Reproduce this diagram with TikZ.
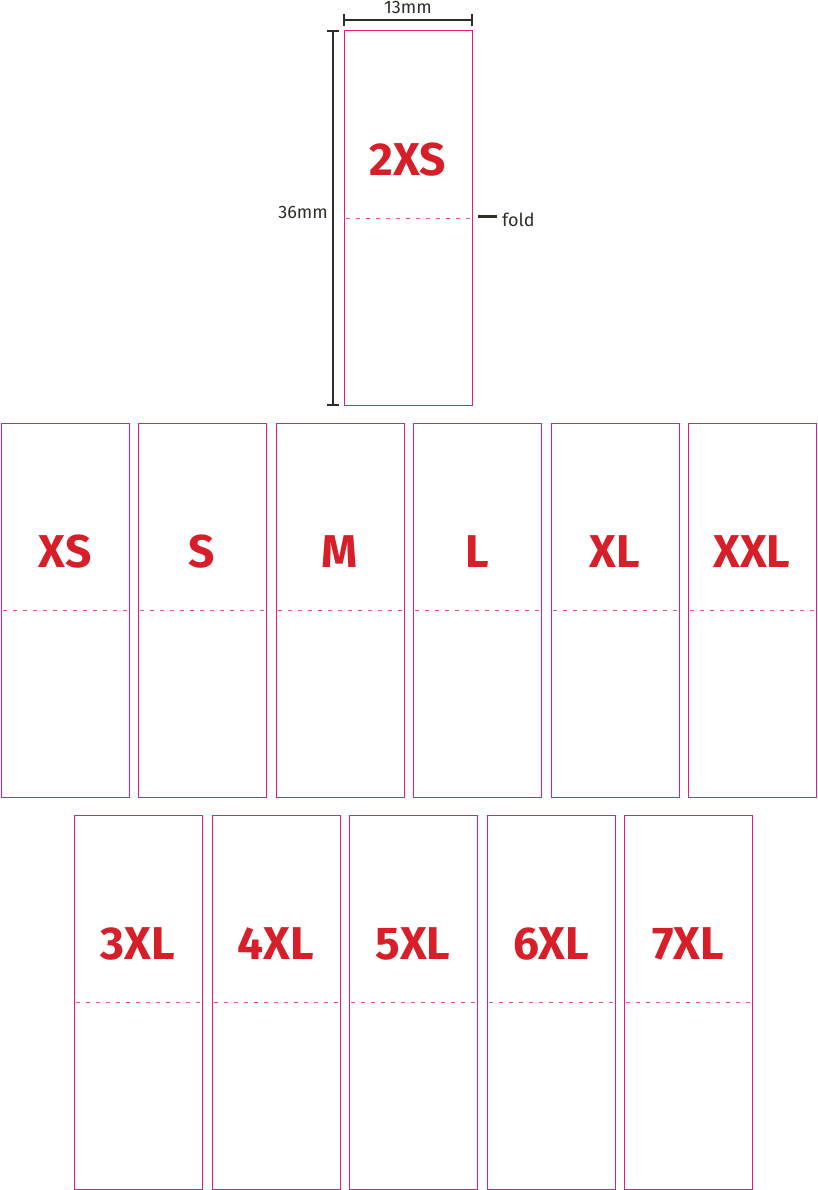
\documentclass[tikz,border=0pt]{standalone}
\usepackage{fontspec}
\setmainfont{Fira Sans}
\definecolor{pinkline}{HTML}{E8198B}
\definecolor{foldc}{HTML}{EE4D88}
\definecolor{sizered}{HTML}{D71F2A}
\definecolor{dimc}{HTML}{2E2E28}
\tikzset{
  tag/.style={draw=pinkline,line width=1pt},
  foldline/.style={draw=foldc,line width=0.8pt,dash pattern=on 4pt off 6pt},
  sizelbl/.style={text=sizered,font=\fontsize{46}{46}\selectfont\bfseries,inner sep=0pt},
  dimlbl/.style={text=dimc,font=\fontsize{18}{18}\selectfont,inner sep=0pt},
  dimbar/.style={draw=dimc,line width=2.2pt},
}
\newcommand{\labeltag}[4]{% name, x, y, text
  \draw[tag] (#2,#3) rectangle ++(128,374);
  \coordinate (#1fl) at (#2+2,#3+187);
  \coordinate (#1fr) at (#2+126,#3+187);
  \draw[foldline] (#1fl) -- (#1fr);
  \node[sizelbl] (#1) at (#2+64,#3+129) {#4};
}
\begin{document}
\begin{tikzpicture}[x=1pt,y=-1pt]
\useasboundingbox (0,0) rectangle (817,1190);
\labeltag{t0}{344}{31}{2XS}
\labeltag{a1}{1}{423}{XS}
\labeltag{a2}{138}{423}{S}
\labeltag{a3}{276}{423}{M}
\labeltag{a4}{413}{423}{L}
\labeltag{a5}{551}{423}{XL}
\labeltag{a6}{688}{423}{XXL}
\labeltag{b1}{74}{815}{3XL}
\labeltag{b2}{212}{815}{4XL}
\labeltag{b3}{349}{815}{5XL}
\labeltag{b4}{487}{815}{6XL}
\labeltag{b5}{624}{815}{7XL}
% dimensions
\coordinate (hl) at (344,20); \coordinate (hr) at (472,20);
\draw[dimbar] (hl) -- (hr);
\draw[dimc,line width=1.5pt] (344,14) -- (344,26) (472,14) -- (472,26);
\node[dimlbl,anchor=south] (w) at (408,14) {13mm};
\coordinate (vt) at (333,31); \coordinate (vb) at (333,405);
\draw[dimbar] (vt) -- (vb);
\draw[dimc,line width=1.5pt] (327,31) -- (339,31) (327,405) -- (339,405);
\node[dimlbl,anchor=east] (h) at (328,212) {36mm};
\coordinate (fa) at (478,217); \coordinate (fb) at (497,217);
\draw[dimc,line width=3pt] (fa) -- (fb);
\node[dimlbl,anchor=west] (fold) at (502,220) {fold};
\end{tikzpicture}
\end{document}
